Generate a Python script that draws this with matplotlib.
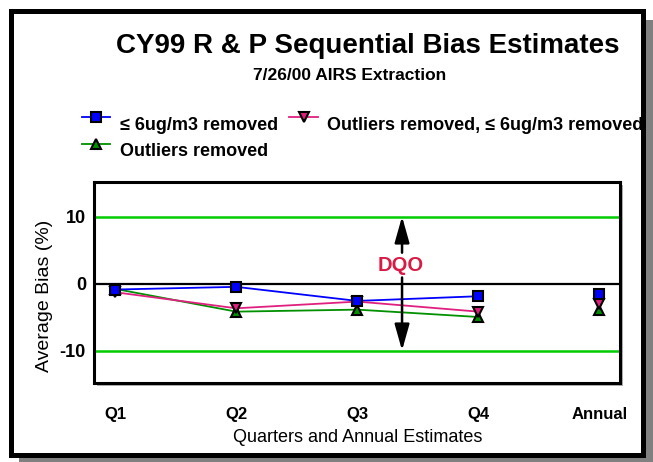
import matplotlib
matplotlib.use('Agg')
import matplotlib.pyplot as plt
from matplotlib.patches import Rectangle
from matplotlib.lines import Line2D

plt.rcParams['font.family'] = ['Liberation Sans', 'DejaVu Sans']

# data
quarters = ['Q1', 'Q2', 'Q3', 'Q4', 'Annual']
bias_6ug = [-0.9, -0.5, -2.6, -1.9, -1.5]
bias_both = [-1.3, -3.7, -2.7, -4.2, -3.0]
bias_outliers = [-0.8, -4.2, -3.9, -5.0, -3.9]
dqo_limits = [10, -10]

W, H = 653, 462
fig = plt.figure(figsize=(W / 100, H / 100), dpi=100)


def fx(px):
    return px / W


def fy(py):
    return 1 - py / H


# page frame with shadow
fig.add_artist(Rectangle((fx(19), fy(462)), fx(653) - fx(19), fy(20) - fy(462),
                         transform=fig.transFigure, facecolor='#808080',
                         edgecolor='none', zorder=-5))
fig.add_artist(Rectangle((fx(10.5), fy(455)), fx(643) - fx(10.5), fy(10.5) - fy(455),
                         transform=fig.transFigure, facecolor='white',
                         edgecolor='black', linewidth=3.6, zorder=-4))
# plot frame shadow
fig.add_artist(Rectangle((fx(97), fy(386)), fx(623) - fx(97), fy(185) - fy(386),
                         transform=fig.transFigure, facecolor='#b0b0b0',
                         edgecolor='none', zorder=-3))

ax = fig.add_axes([fx(94), fy(383), fx(620) - fx(94), fy(182) - fy(383)])
ax.set_facecolor('white')
for s in ax.spines.values():
    s.set_linewidth(2.2)

x = list(range(len(quarters)))

for lim in dqo_limits:
    ax.axhline(lim, color='#00CC00', linewidth=1.8, zorder=1)
ax.axhline(0, color='black', linewidth=1.6, zorder=1)

# quarterly lines, annual as markers only
ax.plot(x[:4], bias_6ug[:4], color='#0000FF', linewidth=1.3, zorder=3)
ax.plot(x[:4], bias_outliers[:4], color='#009000', linewidth=1.3, zorder=2)
ax.plot(x[:4], bias_both[:4], color='#E0207F', linewidth=1.3, zorder=3)

ax.plot(x, bias_outliers, linestyle='none', marker='^', markersize=6.5,
        markerfacecolor='#009000', markeredgecolor='black', markeredgewidth=1.5, zorder=4)
ax.plot(x, bias_both, linestyle='none', marker='v', markersize=6.5,
        markerfacecolor='#E0207F', markeredgecolor='black', markeredgewidth=1.5, zorder=4)
ax.plot(x, bias_6ug, linestyle='none', marker='s', markersize=7,
        markerfacecolor='#0000FF', markeredgecolor='black', markeredgewidth=1.5, zorder=5)

# DQO arrows
dqo_x = 2.37
arrow = dict(arrowstyle='-|>,head_length=1.6,head_width=0.45', color='black',
             linewidth=1.8, shrinkA=0, shrinkB=0, mutation_scale=10)
ax.annotate('', xy=(dqo_x, 10), xytext=(dqo_x, 4.6), arrowprops=arrow, zorder=6)
ax.annotate('', xy=(dqo_x, -10), xytext=(dqo_x, 0.9), arrowprops=arrow, zorder=6)
ax.text(dqo_x - 0.01, 2.75, 'DQO', color='#D81B45', fontsize=14.5,
        fontweight='bold', ha='center', va='center', zorder=7)

ax.set_xlim(-0.174, 4.17)
ax.set_ylim(-14.85, 15.15)
ax.set_xticks(x)
ax.set_xticklabels(quarters, fontsize=12, fontweight='bold')
ax.set_yticks([-10, 0, 10])
ax.set_yticklabels(['-10', '0', '10'], fontsize=13, fontweight='bold')
ax.tick_params(axis='x', length=0, pad=17)
ax.tick_params(axis='y', length=0, pad=5.8)

fig.text(fx(45), fy(296), 'Average Bias (%)', rotation=90, fontsize=14,
         ha='center', va='center')
fig.text(fx(358), fy(437), 'Quarters and Annual Estimates', fontsize=13,
         ha='center', va='center')

fig.text(fx(368), fy(46), 'CY99 R & P Sequential Bias Estimates', fontsize=20,
         fontweight='bold', ha='center', va='center')
fig.text(fx(350), fy(76), '7/26/00 AIRS Extraction', fontsize=12.5,
         fontweight='bold', ha='center', va='center')

# legend keys
keys = [
    (82, 110, 117, '#0000FF', 's', 7, '≤ 6ug/m3 removed', 120, 125),
    (289, 318, 117, '#E0207F', 'v', 6.5, 'Outliers removed, ≤ 6ug/m3 removed', 327, 125),
    (82, 110, 144, '#009000', '^', 6.5, 'Outliers removed', 120, 151),
]
for x0, x1, yk, col, mk, ms, label, tx, ty in keys:
    fig.add_artist(Line2D([fx(x0), fx(x1)], [fy(yk), fy(yk)], transform=fig.transFigure,
                          color=col, linewidth=1.3))
    fig.add_artist(Line2D([fx((x0 + x1) / 2)], [fy(yk)], transform=fig.transFigure,
                          marker=mk, markersize=ms, markerfacecolor=col,
                          markeredgecolor='black', markeredgewidth=1.5))
    fig.text(fx(tx), fy(ty), label, fontsize=13, fontweight='bold',
             ha='left', va='center')

fig.savefig('out.png', dpi=100)
